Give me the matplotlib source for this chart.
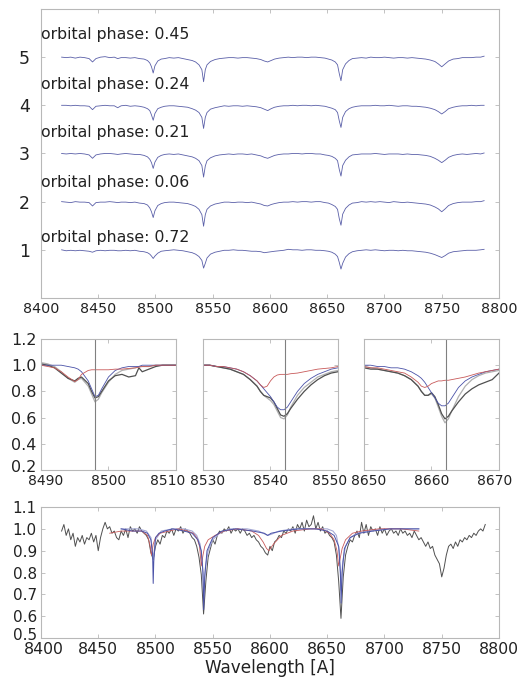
import numpy as np
import matplotlib
matplotlib.use("Agg")
import matplotlib.pyplot as plt
import matplotlib.transforms as mtransforms

# ---- top panel: five spectra (normalised flux), common wavelength grid ----
wave = [8418, 8422, 8426, 8430, 8434, 8438, 8442, 8445, 8448, 8452,
        8456, 8460, 8464, 8467, 8470, 8474, 8478, 8482, 8486, 8490,
        8493, 8495, 8496.5, 8498, 8499.5, 8502, 8505, 8508, 8512, 8516,
        8520, 8524, 8528, 8532, 8535, 8538, 8540.5, 8542, 8543.5, 8545,
        8548, 8552, 8556, 8560, 8564, 8568, 8572, 8576, 8580, 8584,
        8588, 8592, 8595, 8598, 8601, 8604, 8608, 8612, 8616, 8620,
        8624, 8628, 8632, 8636, 8640, 8644, 8648, 8651, 8654, 8657,
        8659, 8660.5, 8662, 8663.5, 8666, 8669, 8672, 8676, 8680, 8684,
        8688, 8692, 8696, 8700, 8704, 8708, 8712, 8716, 8720, 8724,
        8728, 8732, 8736, 8740, 8744, 8747, 8750, 8753, 8756, 8760,
        8764, 8768, 8772, 8776, 8780, 8784, 8787]

spec_072 = [1.00, 0.98, 0.99, 0.98, 0.99, 0.98, 0.97, 0.95, 0.98, 0.99,
            0.98, 0.99, 0.99, 0.98, 0.98, 0.99, 0.98, 0.99, 0.97, 0.96,
            0.94, 0.91, 0.87, 0.82, 0.87, 0.93, 0.97, 0.98, 0.99, 1.00,
            0.99, 0.98, 0.96, 0.94, 0.91, 0.86, 0.78, 0.62, 0.72, 0.83,
            0.91, 0.95, 0.97, 0.99, 0.99, 1.00, 0.99, 0.99, 0.98, 0.97,
            0.97, 0.96, 0.94, 0.95, 0.96, 0.97, 0.98, 0.99, 1.01, 1.00,
            1.00, 0.99, 1.00, 1.00, 0.99, 0.99, 0.98, 0.97, 0.95, 0.91,
            0.86, 0.74, 0.60, 0.72, 0.85, 0.92, 0.96, 0.98, 0.99, 1.00,
            0.99, 1.00, 0.99, 0.98, 0.99, 0.99, 0.98, 0.99, 0.98, 0.98,
            0.97, 0.96, 0.95, 0.93, 0.90, 0.87, 0.84, 0.88, 0.93, 0.96,
            0.97, 0.98, 0.99, 0.99, 0.99, 1.00, 1.01]
spec_006 = [1.00, 0.99, 0.98, 1.00, 0.99, 0.99, 0.98, 0.91, 0.98, 0.99,
            0.99, 1.00, 0.99, 0.98, 0.99, 0.99, 0.98, 0.99, 0.97, 0.96,
            0.93, 0.87, 0.79, 0.67, 0.81, 0.92, 0.96, 0.98, 0.99, 0.99,
            0.98, 0.97, 0.96, 0.93, 0.90, 0.84, 0.73, 0.49, 0.73, 0.84,
            0.91, 0.95, 0.97, 0.99, 0.99, 0.98, 0.99, 0.99, 0.98, 0.99,
            0.97, 0.95, 0.92, 0.91, 0.94, 0.96, 0.98, 0.99, 0.99, 1.00,
            0.99, 1.00, 1.00, 0.99, 1.00, 1.00, 0.98, 0.97, 0.94, 0.90,
            0.84, 0.65, 0.51, 0.74, 0.86, 0.93, 0.97, 0.98, 1.00, 0.99,
            1.00, 0.99, 1.00, 0.99, 0.98, 1.00, 0.99, 0.98, 0.99, 0.98,
            0.97, 0.96, 0.95, 0.93, 0.89, 0.85, 0.79, 0.85, 0.92, 0.96,
            0.98, 0.99, 0.99, 0.99, 1.00, 1.00, 1.02]
spec_021 = [1.00, 0.99, 1.00, 0.99, 1.00, 0.99, 0.97, 0.90, 0.97, 0.99,
            1.00, 1.00, 0.99, 0.98, 0.99, 1.00, 0.99, 0.98, 0.98, 0.96,
            0.93, 0.88, 0.81, 0.69, 0.82, 0.92, 0.96, 0.98, 0.99, 0.98,
            0.99, 0.97, 0.95, 0.93, 0.90, 0.85, 0.75, 0.51, 0.74, 0.85,
            0.91, 0.95, 0.97, 0.98, 0.99, 0.98, 0.99, 0.99, 0.98, 0.99,
            0.97, 0.95, 0.92, 0.90, 0.93, 0.96, 0.98, 0.99, 0.99, 1.00,
            1.00, 0.99, 1.00, 1.00, 0.99, 0.99, 0.97, 0.96, 0.94, 0.90,
            0.85, 0.67, 0.53, 0.75, 0.86, 0.93, 0.97, 0.98, 0.99, 0.99,
            0.99, 1.00, 0.99, 0.98, 0.99, 0.99, 0.99, 0.98, 0.99, 0.98,
            0.98, 0.97, 0.96, 0.94, 0.90, 0.86, 0.81, 0.86, 0.92, 0.96,
            0.98, 0.99, 0.98, 0.99, 1.00, 0.99, 1.01]
spec_024 = [1.00, 1.00, 0.99, 1.00, 0.99, 0.99, 0.98, 0.91, 0.98, 0.99,
            1.00, 0.99, 0.99, 0.95, 0.99, 1.00, 0.98, 0.99, 0.98, 0.96,
            0.93, 0.89, 0.80, 0.69, 0.83, 0.93, 0.96, 0.98, 0.99, 0.99,
            0.98, 0.97, 0.96, 0.93, 0.90, 0.85, 0.75, 0.52, 0.75, 0.85,
            0.92, 0.95, 0.97, 0.99, 0.98, 0.99, 0.99, 0.98, 0.99, 0.98,
            0.97, 0.95, 0.92, 0.89, 0.93, 0.96, 0.98, 0.99, 0.99, 1.00,
            0.99, 1.00, 1.00, 0.99, 1.00, 0.99, 0.98, 0.96, 0.94, 0.91,
            0.85, 0.68, 0.54, 0.75, 0.87, 0.93, 0.96, 0.98, 0.99, 0.99,
            0.99, 1.00, 0.99, 0.99, 1.00, 0.99, 0.98, 0.99, 0.99, 0.98,
            0.98, 0.97, 0.96, 0.94, 0.91, 0.87, 0.82, 0.87, 0.93, 0.96,
            0.98, 0.99, 0.99, 1.00, 0.99, 1.00, 1.00]
spec_045 = [1.00, 0.99, 1.00, 0.98, 1.00, 0.99, 0.97, 0.90, 0.97, 1.00,
            1.01, 0.99, 1.00, 0.97, 0.99, 0.99, 0.98, 0.99, 0.97, 0.96,
            0.93, 0.88, 0.80, 0.67, 0.82, 0.92, 0.96, 0.97, 0.99, 0.98,
            0.99, 0.97, 0.95, 0.93, 0.90, 0.84, 0.74, 0.49, 0.74, 0.84,
            0.91, 0.95, 0.97, 0.98, 0.99, 0.99, 0.98, 0.99, 0.99, 0.98,
            0.97, 0.95, 0.92, 0.90, 0.93, 0.96, 0.98, 0.99, 1.00, 0.99,
            1.00, 1.00, 0.99, 1.00, 1.00, 0.99, 0.98, 0.96, 0.94, 0.90,
            0.84, 0.66, 0.51, 0.74, 0.86, 0.93, 0.97, 0.98, 0.99, 0.98,
            1.00, 0.99, 0.99, 1.00, 0.99, 0.98, 0.99, 0.99, 0.98, 0.99,
            0.98, 0.97, 0.96, 0.94, 0.91, 0.86, 0.80, 0.86, 0.92, 0.96,
            0.97, 0.99, 0.99, 0.99, 1.00, 1.00, 1.02]

top_spectra = [spec_072, spec_006, spec_021, spec_024, spec_045]
phases = ["0.72", "0.06", "0.21", "0.24", "0.45"]
phase_label_y = [1.25, 2.40, 3.44, 4.44, 5.46]

# ---- middle panels: zoom on the three Ca II lines ----
ca_lines = [8498.0, 8542.1, 8662.1]
zoom_xlim = [(8490, 8510), (8530, 8550), (8650, 8670)]

z1_wave = [8490, 8491, 8492, 8493, 8494, 8495, 8495.5, 8496, 8497, 8497.5,
           8498, 8498.5, 8499, 8500, 8501, 8502, 8503, 8504, 8504.5, 8505,
           8506, 8507, 8508, 8509, 8510]
z1_obs = [1.01, 1.00, 0.98, 0.94, 0.90, 0.88, 0.90, 0.91, 0.86, 0.80,
          0.75, 0.76, 0.80, 0.88, 0.92, 0.93, 0.91, 0.92, 0.98, 0.95,
          0.97, 0.99, 1.00, 1.00, 1.00]
z1_obs2 = [1.02, 1.01, 0.99, 0.95, 0.90, 0.87, 0.89, 0.90, 0.84, 0.78,
           0.72, 0.74, 0.79, 0.87, 0.93, 0.96, 0.97, 0.98, 0.99, 0.99,
           0.99, 1.00, 1.00, 1.00, 1.00]
z1_blue = [1.00, 1.00, 1.00, 1.00, 0.99, 0.98, 0.97, 0.95, 0.88, 0.82,
           0.76, 0.77, 0.82, 0.91, 0.96, 0.98, 0.99, 0.99, 0.99, 1.00,
           1.00, 1.00, 1.00, 1.00, 1.00]
z1_red = [1.00, 0.99, 0.98, 0.95, 0.91, 0.875, 0.89, 0.93, 0.96, 0.965,
          0.965, 0.965, 0.965, 0.965, 0.97, 0.97, 0.975, 0.98, 0.985, 0.99,
          0.99, 1.00, 1.00, 1.00, 1.00]

z2_wave = [8530, 8531, 8532, 8533, 8534, 8535, 8536, 8537, 8538, 8538.5,
           8539, 8539.5, 8540, 8540.5, 8541, 8541.5, 8542, 8542.5, 8543, 8544,
           8545, 8546, 8547, 8548, 8549, 8550]
z2_obs = [1.00, 1.00, 0.99, 0.98, 0.97, 0.95, 0.93, 0.89, 0.84, 0.80,
          0.77, 0.76, 0.75, 0.72, 0.67, 0.62, 0.61, 0.63, 0.67, 0.74,
          0.80, 0.85, 0.89, 0.92, 0.94, 0.95]
z2_obs2 = [1.00, 1.00, 0.99, 0.98, 0.97, 0.95, 0.93, 0.89, 0.84, 0.80,
           0.77, 0.75, 0.73, 0.70, 0.65, 0.60, 0.59, 0.62, 0.68, 0.77,
           0.83, 0.87, 0.91, 0.93, 0.95, 0.96]
z2_blue = [1.00, 1.00, 0.99, 0.99, 0.98, 0.97, 0.95, 0.92, 0.88, 0.85,
           0.82, 0.79, 0.76, 0.72, 0.68, 0.66, 0.66, 0.68, 0.72, 0.80,
           0.86, 0.90, 0.93, 0.95, 0.97, 0.98]
z2_red = [1.00, 1.00, 0.99, 0.99, 0.98, 0.97, 0.95, 0.92, 0.88, 0.85,
          0.83, 0.84, 0.88, 0.91, 0.925, 0.93, 0.93, 0.93, 0.935, 0.94,
          0.95, 0.96, 0.97, 0.975, 0.98, 0.99]

z3_wave = [8650, 8651, 8652, 8653, 8654, 8655, 8656, 8657, 8658, 8658.5,
           8659, 8659.5, 8660, 8660.5, 8661, 8661.5, 8662, 8662.5, 8663, 8664,
           8665, 8666, 8667, 8668, 8669, 8670]
z3_obs = [0.98, 0.97, 0.97, 0.96, 0.95, 0.94, 0.92, 0.89, 0.84, 0.80,
          0.77, 0.77, 0.79, 0.76, 0.70, 0.63, 0.59, 0.61, 0.65, 0.72,
          0.78, 0.82, 0.85, 0.87, 0.89, 0.94]
z3_obs2 = [0.99, 0.98, 0.97, 0.96, 0.95, 0.94, 0.92, 0.89, 0.84, 0.80,
           0.77, 0.77, 0.78, 0.75, 0.68, 0.61, 0.56, 0.59, 0.65, 0.76,
           0.84, 0.89, 0.92, 0.94, 0.95, 0.96]
z3_blue = [1.00, 1.00, 0.99, 0.99, 0.98, 0.98, 0.97, 0.95, 0.92, 0.90,
           0.87, 0.83, 0.79, 0.75, 0.71, 0.69, 0.69, 0.71, 0.75, 0.83,
           0.88, 0.91, 0.93, 0.95, 0.96, 0.97]
z3_red = [0.99, 0.98, 0.98, 0.97, 0.96, 0.95, 0.94, 0.91, 0.87, 0.84,
          0.83, 0.84, 0.86, 0.87, 0.88, 0.88, 0.885, 0.885, 0.89, 0.90,
          0.91, 0.925, 0.94, 0.95, 0.96, 0.97]

zooms = [(z1_wave, z1_obs, z1_obs2, z1_blue, z1_red),
         (z2_wave, z2_obs, z2_obs2, z2_blue, z2_red),
         (z3_wave, z3_obs, z3_obs2, z3_blue, z3_red)]

# ---- bottom panel: observed spectrum (2 A sampling) and models ----
obs_wave = np.arange(8418, 8789, 2)
obs_flux = [0.99, 1.02, 0.97, 1.00, 0.95, 0.98, 0.92, 0.96, 0.94, 0.97,
            0.93, 0.96, 0.95, 0.98, 0.94, 0.97, 0.90, 0.96, 1.00, 1.03,
            1.00, 1.01, 0.98, 0.99, 0.96, 0.95, 0.99, 0.97, 1.00, 0.96,
            1.01, 0.99, 1.00, 0.98, 1.01, 0.99, 0.98, 0.97, 0.95, 0.89,
            0.86, 0.92, 0.95, 0.93, 0.97, 0.96, 0.99, 0.98, 1.00, 0.97,
            1.00, 0.99, 1.01, 0.98, 1.00, 0.99, 0.98, 0.96, 0.95, 0.92,
            0.87, 0.79, 0.61, 0.76, 0.87, 0.91, 0.95, 0.93, 0.97, 0.99,
            0.98, 1.00, 0.99, 1.01, 0.98, 1.00, 0.99, 1.00, 0.98, 1.00,
            0.99, 0.97, 0.98, 0.96, 0.97, 0.95, 0.94, 0.92, 0.91, 0.89,
            0.88, 0.92, 0.90, 0.94, 0.95, 0.97, 0.96, 0.99, 0.98, 1.00,
            0.99, 1.01, 0.98, 1.02, 1.00, 1.03, 0.99, 1.04, 1.01, 1.02,
            1.06, 1.00, 1.03, 0.99, 1.01, 0.98, 0.99, 0.97, 0.96, 0.94,
            0.88, 0.76, 0.59, 0.78, 0.88, 0.92, 0.95, 0.94, 0.97, 0.99,
            0.96, 1.03, 0.98, 1.02, 0.97, 1.01, 0.99, 1.00, 0.97, 1.01,
            0.98, 1.00, 0.97, 0.99, 1.00, 0.98, 0.99, 0.97, 1.00, 0.98,
            0.99, 0.97, 0.98, 0.96, 0.99, 0.97, 0.95, 0.96, 0.94, 0.92,
            0.94, 0.91, 0.92, 0.88, 0.86, 0.84, 0.78, 0.82, 0.88, 0.92,
            0.93, 0.91, 0.94, 0.92, 0.95, 0.94, 0.96, 0.95, 0.97, 0.96,
            0.98, 0.97, 0.99, 1.00, 0.99, 1.02]

blue_wave = [8470, 8480, 8488, 8493, 8496, 8497.5, 8498, 8498.5, 8500, 8503,
             8508, 8515, 8525, 8532, 8537, 8540, 8541.5, 8542.1, 8543, 8545,
             8550, 8558, 8570, 8585, 8595, 8598, 8601, 8610, 8625, 8640,
             8650, 8656, 8660, 8661.5, 8662.1, 8663, 8665, 8670, 8678, 8690,
             8705, 8720, 8730]
blue_flux = [1.00, 0.99, 0.99, 0.98, 0.95, 0.88, 0.75, 0.85, 0.96, 0.98,
             0.99, 1.00, 0.99, 0.98, 0.95, 0.90, 0.80, 0.63, 0.78, 0.90,
             0.96, 0.99, 1.00, 0.99, 0.98, 0.97, 0.98, 0.99, 1.00, 1.00,
             0.99, 0.97, 0.92, 0.80, 0.66, 0.80, 0.91, 0.96, 0.98, 0.99,
             1.00, 1.00, 1.00]

lav_wave = [8470, 8485, 8492, 8496, 8498, 8500, 8505, 8515, 8525, 8532,
            8536, 8539, 8541, 8542.1, 8543.5, 8546, 8550, 8556, 8565, 8580,
            8590, 8596, 8598, 8601, 8608, 8620, 8640, 8650, 8655, 8658,
            8660.5, 8662.1, 8663.5, 8666, 8670, 8676, 8685, 8700, 8730]
lav_flux = [1.00, 1.00, 0.99, 0.96, 0.86, 0.95, 0.99, 1.00, 1.00, 0.99,
            0.97, 0.93, 0.84, 0.70, 0.82, 0.90, 0.95, 0.98, 1.00, 1.00,
            0.99, 0.975, 0.97, 0.975, 0.99, 1.00, 1.00, 1.00, 0.99, 0.97,
            0.90, 0.72, 0.85, 0.92, 0.96, 0.98, 0.99, 1.00, 1.00]

red_wave = [8460, 8470, 8480, 8488, 8493, 8495, 8496.5, 8498, 8500, 8504,
            8512, 8520, 8528, 8533, 8536, 8538.5, 8540, 8541.5, 8543, 8546,
            8552, 8560, 8572, 8584, 8590, 8594, 8597, 8599, 8603, 8610,
            8620, 8635, 8645, 8652, 8656, 8658.5, 8660, 8661.5, 8663, 8666,
            8672, 8680, 8695, 8715, 8730]
red_flux = [0.98, 0.99, 0.99, 0.99, 0.97, 0.93, 0.88, 0.93, 0.96, 0.98,
            0.99, 1.00, 0.99, 0.98, 0.96, 0.92, 0.83, 0.88, 0.92, 0.95,
            0.97, 0.99, 1.00, 0.99, 0.97, 0.94, 0.91, 0.90, 0.93, 0.97,
            0.99, 1.00, 1.00, 0.98, 0.95, 0.90, 0.83, 0.87, 0.91, 0.95,
            0.98, 0.99, 1.00, 1.00, 0.99]

SPINE = "#b8b8b8"
TXT = "#222222"
C_TOP = "#5a5fa8"
C_OBS = "#505050"
C_OBS2 = "#b0b0b0"
C_BLUE = "#4a52a8"
C_RED = "#c85a5a"
C_LAV = "#a4a8d4"


def style(ax, xsize, ysize):
    for s in ax.spines.values():
        s.set_color(SPINE)
        s.set_linewidth(0.8)
    ax.tick_params(direction="in", length=3, width=0.6, color=SPINE,
                   labelcolor=TXT, top=True, right=True, pad=3)
    ax.tick_params(axis="x", labelsize=xsize)
    ax.tick_params(axis="y", labelsize=ysize)


def nudge(fig, label, dx, dy):
    off = mtransforms.ScaledTranslation(dx / 72.0, dy / 72.0, fig.dpi_scale_trans)
    label.set_transform(label.get_transform() + off)


fig = plt.figure(figsize=(5.31, 6.85), dpi=100)

# top
ax = fig.add_axes([0.0772, 0.5650, 0.8625, 0.4219])
for k, flux in enumerate(top_spectra):
    ax.plot(wave, np.array(flux) + k, color=C_TOP, lw=0.6)
    ax.text(8400, phase_label_y[k], "orbital phase: " + phases[k],
            ha="left", va="center", fontsize=11.3, color=TXT)
ax.set_xlim(8400, 8800)
ax.set_ylim(0, 6)
ax.set_xticks(np.arange(8400, 8801, 50))
ax.set_yticks([1, 2, 3, 4, 5])
style(ax, 10.3, 12.5)
ax.tick_params(axis="y", pad=8)

# middle
lefts = [0.0772, 0.3823, 0.6855]
for i, (w, obs, obs2, blue, red) in enumerate(zooms):
    ax = fig.add_axes([lefts[i], 0.3139, 0.2542, 0.1912])
    ax.plot(w, obs2, color=C_OBS2, lw=0.9)
    ax.plot(w, obs, color=C_OBS, lw=0.9)
    ax.plot(w, blue, color=C_BLUE, lw=0.6)
    ax.plot(w, red, color=C_RED, lw=0.6)
    ax.axvline(ca_lines[i], color="#808080", lw=0.8)
    ax.set_xlim(*zoom_xlim[i])
    ax.set_ylim(0.2, 1.2)
    lo = zoom_xlim[i][0]
    ax.set_xticks([lo, lo + 10, lo + 20])
    ax.set_yticks([0.2, 0.4, 0.6, 0.8, 1.0, 1.2])
    style(ax, 10, 11.5)
    if i > 0:
        ax.set_yticklabels([])
    xl = ax.get_xticklabels()
    nudge(fig, xl[0], 3, 0)
    if i < 2:
        nudge(fig, xl[-1], -6, 0)
    else:
        nudge(fig, xl[-1], -3, 0)
    if i == 0:
        nudge(fig, ax.get_yticklabels()[0], 0, 3)

# bottom
ax = fig.add_axes([0.0772, 0.0686, 0.8625, 0.1912])
ax.plot(obs_wave, obs_flux, color=C_OBS, lw=0.7)
ax.plot(lav_wave, lav_flux, color=C_LAV, lw=0.8)
ax.plot(red_wave, red_flux, color=C_RED, lw=0.6)
ax.plot(blue_wave, blue_flux, color=C_BLUE, lw=0.7)
ax.set_xlim(8400, 8800)
ax.set_ylim(0.5, 1.1)
ax.set_xticks(np.arange(8400, 8801, 50))
ax.set_yticks([0.5, 0.6, 0.7, 0.8, 0.9, 1.0, 1.1])
style(ax, 11.3, 11)
nudge(fig, ax.get_yticklabels()[0], 0, 3)
nudge(fig, ax.get_xticklabels()[0], 2, 0)
ax.set_xlabel("Wavelength [A]", fontsize=12.2, color=TXT, labelpad=1)

fig.savefig("out.png", dpi=100)
